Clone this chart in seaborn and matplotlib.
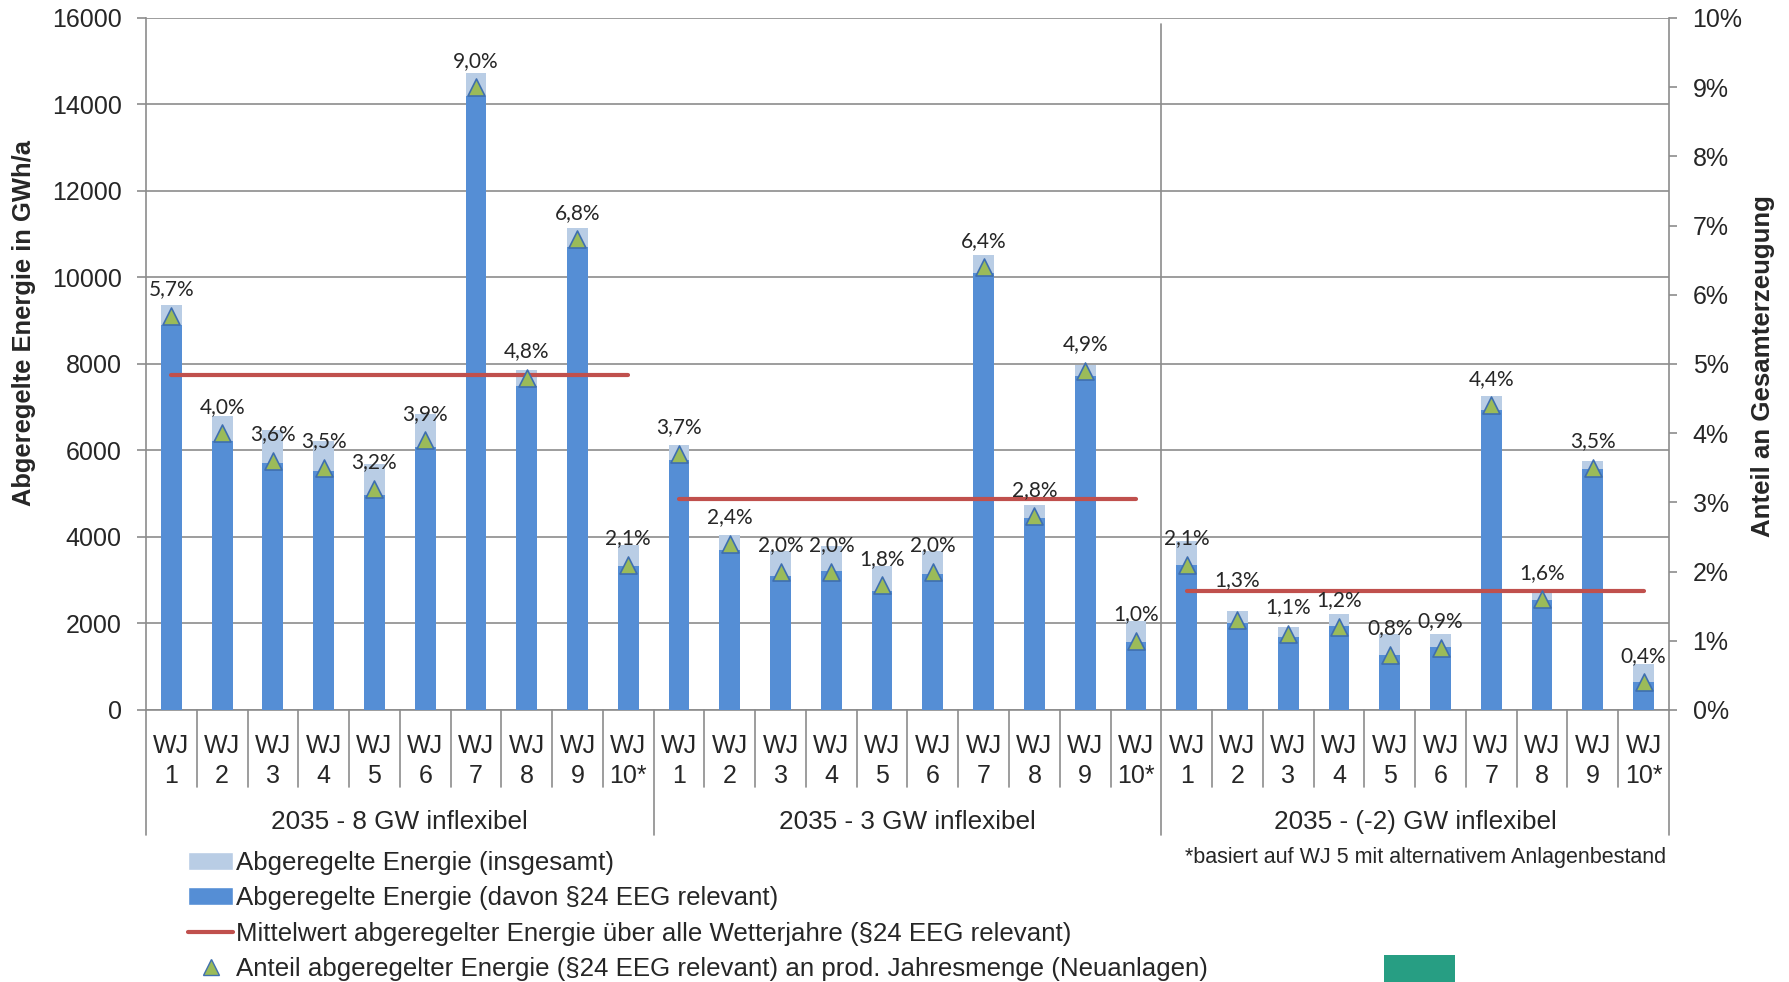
import numpy as np
import pandas as pd
import matplotlib.pyplot as plt
import seaborn as sns
from matplotlib.lines import Line2D
from matplotlib.patches import Patch, Rectangle

# Daten
gruppen = ["2035 - 8 GW inflexibel", "2035 - 3 GW inflexibel", "2035 - (-2) GW inflexibel"]
wetterjahre = ["WJ\n1", "WJ\n2", "WJ\n3", "WJ\n4", "WJ\n5", "WJ\n6", "WJ\n7", "WJ\n8", "WJ\n9", "WJ\n10*"]

gesamt_8gw = [9370, 6800, 6470, 6220, 5680, 6850, 14720, 7850, 11150, 3810]
eeg_8gw = [8910, 6230, 5710, 5520, 4960, 6070, 14200, 7500, 10700, 3330]
anteil_8gw = [5.7, 4.0, 3.6, 3.5, 3.2, 3.9, 9.0, 4.8, 6.8, 2.1]

gesamt_3gw = [6120, 4040, 3670, 3780, 3330, 3680, 10530, 4750, 7980, 2060]
eeg_3gw = [5780, 3700, 3100, 3210, 2760, 3150, 10110, 4440, 7720, 1570]
anteil_3gw = [3.7, 2.4, 2.0, 2.0, 1.8, 2.0, 6.4, 2.8, 4.9, 1.0]

gesamt_m2gw = [3900, 2290, 1920, 2210, 1760, 1760, 7270, 2710, 5750, 1060]
eeg_m2gw = [3360, 2020, 1690, 1950, 1270, 1460, 6930, 2540, 5570, 650]
anteil_m2gw = [2.1, 1.3, 1.1, 1.2, 0.8, 0.9, 4.4, 1.6, 3.5, 0.4]

mittelwert = [7750, 4870, 2760]

HELL = "#B9CDE5"
DUNKEL = "#558ED5"
ROT = "#C0504D"
GRUEN = "#9BBB59"
KANTE = "#3F6FAF"
GRID = "#8C8C8C"

rows = []
for g, (ges, eeg, ant) in enumerate([(gesamt_8gw, eeg_8gw, anteil_8gw),
                                     (gesamt_3gw, eeg_3gw, anteil_3gw),
                                     (gesamt_m2gw, eeg_m2gw, anteil_m2gw)]):
    for i in range(10):
        rows.append({"key": f"{g}-{i}", "pos": g * 10 + i, "gruppe": g,
                     "gesamt": ges[i], "eeg": eeg[i], "anteil": ant[i]})
df = pd.DataFrame(rows)

sns.set_style("white")
plt.rcParams["font.family"] = ["Liberation Sans", "DejaVu Sans"]

fig = plt.figure(figsize=(17.89, 9.82), dpi=100)
ax = fig.add_axes([0.0816, 0.2770, 0.8513, 0.7047])

sns.barplot(data=df, x="key", y="gesamt", color=HELL, width=0.41, saturation=1,
            errorbar=None, ax=ax, zorder=2, linewidth=0)
sns.barplot(data=df, x="key", y="eeg", color=DUNKEL, width=0.41, saturation=1,
            errorbar=None, ax=ax, zorder=3, linewidth=0)

for g, m in enumerate(mittelwert):
    ax.plot([g * 10, g * 10 + 9], [m, m], color=ROT, lw=3, solid_capstyle="round", zorder=4)

ax.set_ylim(0, 16000)
ax.set_yticks(range(0, 16001, 2000))
ax.set_xlim(-0.5, 29.5)
ax.yaxis.grid(True, color=GRID, lw=1.2, zorder=0)
ax.set_axisbelow(True)
ax.axvline(19.5, ymin=0, ymax=0.991, color=GRID, lw=1.2, zorder=1)
ax.set_xlabel("")
ax.set_ylabel("")
for s in ["left", "right", "bottom"]:
    ax.spines[s].set_color(GRID)
    ax.spines[s].set_linewidth(1.2)
ax.spines["top"].set_visible(False)
ax.tick_params(axis="y", direction="out", length=6.5, width=1.2, color=GRID, pad=11, labelsize=18, left=True)

ax.set_xticks(range(30))
ax.set_xticklabels(wetterjahre * 3, fontsize=18, linespacing=1.32)
ax.tick_params(axis="x", length=0, pad=17)

trans = ax.get_xaxis_transform()
for b in range(31):
    x = b - 0.5
    depth = -0.181 if b % 10 == 0 else -0.111
    ax.plot([x, x], [0, depth], transform=trans, clip_on=False, color=GRID, lw=1.2)
for g, name in enumerate(gruppen):
    ax.text(g * 10 + 4.5, -0.162, name, transform=trans, ha="center", va="center", fontsize=18.8)

ax2 = ax.twinx()
sns.scatterplot(x=df["pos"], y=df["anteil"], marker="^", s=150, color=GRUEN,
                edgecolor=KANTE, linewidth=1.2, ax=ax2, zorder=5, legend=False)
ax2.set_ylim(0, 10)
ax2.set_yticks(range(0, 11))
ax2.set_yticklabels([f"{v}%" for v in range(0, 11)])
ax2.set_xlim(-0.5, 29.5)
ax2.set_ylabel("")
ax2.set_xlabel("")
for s in ax2.spines.values():
    s.set_visible(False)
ax2.tick_params(axis="y", direction="out", length=6, width=1.2, color=GRID, pad=11, labelsize=18, right=True)

for _, r in df.iterrows():
    off = 29 if (r["gruppe"] == 2 and r["pos"] == 21) else 19
    txt = f"{r['anteil']:.1f}".replace(".", ",") + "%"
    ax2.annotate(txt, (r["pos"], r["anteil"]), xytext=(0, off), textcoords="offset points",
                 ha="center", va="center", fontsize=15, family="Lato", zorder=6)

fig.text(24 / 1789, 1 - 323 / 982, "Abgeregelte Energie in GWh/a", rotation=90,
         fontweight="bold", fontsize=18.4, ha="center", va="center")
fig.text(1763 / 1789, 1 - 366 / 982, "Anteil an Gesamterzeugung", rotation=90,
         fontweight="bold", fontsize=18.6, ha="center", va="center")
fig.text(1666 / 1789, 1 - 857 / 982, "*basiert auf WJ 5 mit alternativem Anlagenbestand",
         ha="right", va="center", fontsize=15.5)

handles = [Patch(facecolor=HELL), Patch(facecolor=DUNKEL),
           Line2D([], [], color=ROT, lw=3),
           Line2D([], [], marker="^", ls="none", markerfacecolor=GRUEN,
                  markeredgecolor=KANTE, markersize=11)]
labels = ["Abgeregelte Energie (insgesamt)",
          "Abgeregelte Energie (davon §24 EEG relevant)",
          "Mittelwert abgeregelter Energie über alle Wetterjahre (§24 EEG relevant)",
          "Anteil abgeregelter Energie (§24 EEG relevant) an prod. Jahresmenge (Neuanlagen)"]
fig.legend(handles, labels, loc="upper left", bbox_to_anchor=(188 / 1789, 1 - 851 / 982),
           frameon=False, fontsize=18.6, handlelength=1.75, handletextpad=0.1,
           labelspacing=0.44, borderpad=0, borderaxespad=0)

# Logo-Andeutung unten rechts
fig.patches.append(Rectangle((1384 / 1789, 0), 71 / 1789, 27 / 982,
                             transform=fig.transFigure, facecolor="#279E83", edgecolor="none"))

fig.savefig("out.png", dpi=100)
